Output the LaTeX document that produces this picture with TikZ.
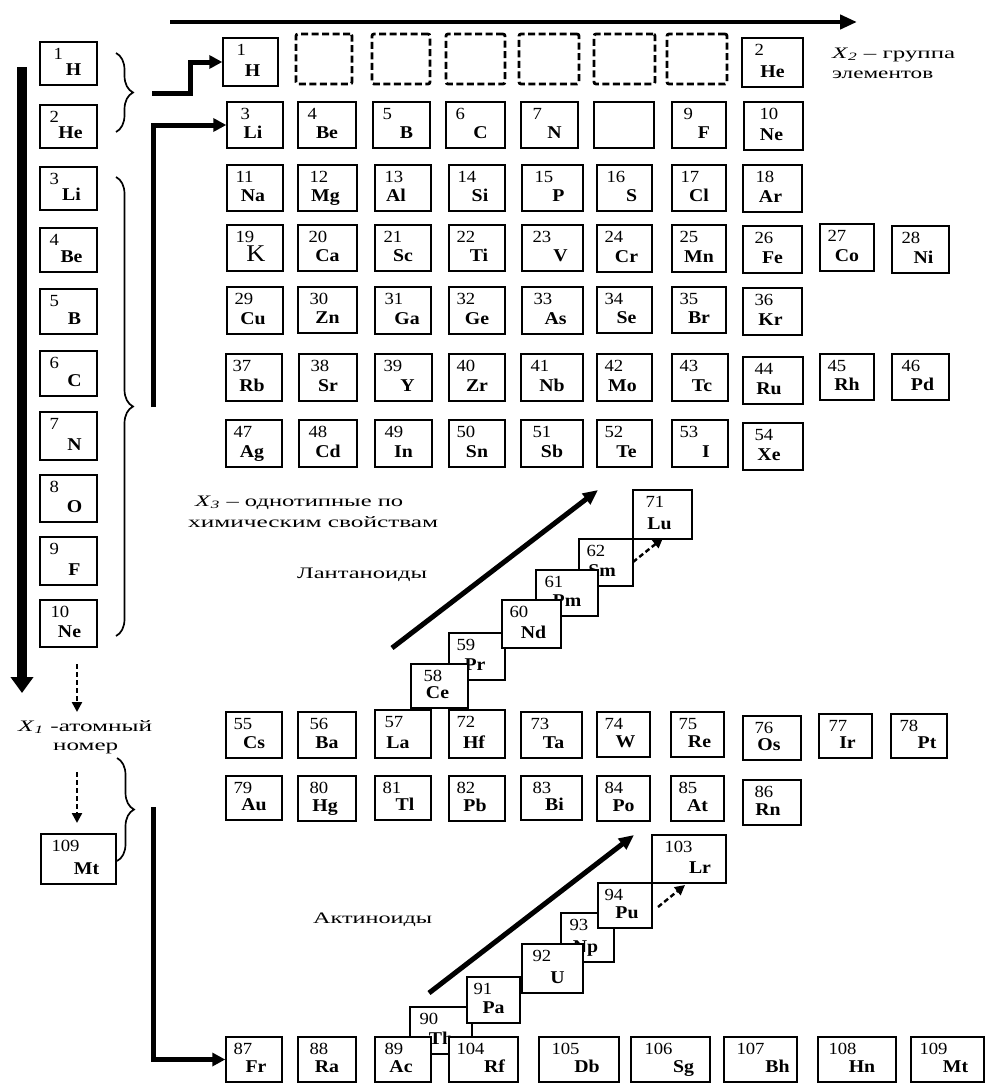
\documentclass[tikz,border=0pt]{standalone}
\usepackage{fontspec}
\usepackage{graphicx}
\setmainfont{Liberation Serif}
\usetikzlibrary{arrows.meta,decorations.pathreplacing}
\tikzset{
 elem/.style={draw, fill=white, line width=1.4pt, inner sep=0pt, rectangle},
 dbox/.style={draw, line width=2.8pt, dash pattern=on 7pt off 3.5pt, rounded corners=2pt, inner sep=0pt, rectangle},
 numtxt/.style={font=\fontsize{17}{17}\selectfont, inner sep=0pt},
 symtxt/.style={font=\fontsize{18}{18}\selectfont\bfseries, inner sep=0pt},
 lbl/.style={font=\fontsize{16}{16}\selectfont, inner sep=0pt},
 brc/.style={decorate, decoration={brace, amplitude=17pt}, line width=1.7pt},
 fat/.style={line width=4.5pt, -{Triangle[width=14pt,length=17pt]}},
 fatv/.style={line width=10pt, -{Triangle[width=22pt,length=16pt]}},
 conn/.style={line width=5pt, -{Triangle[width=13pt,length=13pt]}},
 diag/.style={line width=5pt, -{Triangle[width=13pt,length=15pt]}},
 dsh/.style={line width=2.4pt, dash pattern=on 5pt off 3pt, -{Triangle[width=10pt,length=10pt]}},
}
% name L T R B num sym dx nx
\newcommand\El[9]{%
\node[elem, minimum width={(#4-#2)*1pt}, minimum height={(#5-#3)*1pt}] (#1) at ({(#2+#4)/2},{(#3+#5)/2}) {};
\node[numtxt, anchor=base west] (#1n) at ([shift={(#9pt,-18pt)}]#1.north west) {\scalebox{1.1}[1]{#6}};
\node[symtxt, anchor=base] (#1s) at ([shift={(#8pt,10pt)}]#1.south) {\scalebox{1.1}[1]{#7}};}
\newcommand\DB[5]{%
\node[dbox, minimum width={(#4-#2)*1pt}, minimum height={(#5-#3)*1pt}] (#1) at ({(#2+#4)/2},{(#3+#5)/2}) {};}
\newcommand\fitw[2]{\resizebox{#1pt}{\height}{#2}}
\begin{document}
\begin{tikzpicture}[x=1pt,y=-1pt]
\useasboundingbox (0,0) rectangle (986,1084);
% ---------- left column ----------
\El{lH}{40}{42}{97}{85}{1}{H}{5}{14}
\El{lHe}{40}{105}{97}{148}{2}{He}{2}{10}
\El{lLi}{40}{167}{97}{210}{3}{Li}{3}{10}
\El{lBe}{40}{228}{97}{272}{4}{Be}{3}{10}
\El{lB}{40}{289}{97}{334}{5}{B}{6}{10}
\El{lC}{40}{351}{97}{396}{6}{C}{6}{10}
\El{lN}{40}{412}{97}{460}{7}{N}{6}{10}
\El{lO}{40}{475}{97}{522}{8}{O}{6}{10}
\El{lF}{40}{537}{97}{585}{9}{F}{6}{10}
\El{lNe}{40}{600}{97}{647}{10}{Ne}{1}{11}
\El{lMt}{41}{834}{116}{884}{109}{Mt}{8}{11}
% ---------- row 1 ----------
\El{tH}{223}{38}{278}{86}{1}{H}{2}{14}
\DB{d1}{296}{34}{352}{84}
\DB{d2}{372}{34}{430}{84}
\DB{d3}{446}{34}{505}{84}
\DB{d4}{519}{34}{579}{84}
\DB{d5}{594}{34}{655}{84}
\DB{d6}{667}{34}{727}{84}
\El{tHe}{742}{38}{803}{87}{2}{He}{0}{13}
% ---------- row 2 ----------
\El{tLi}{227}{102}{283}{148}{3}{Li}{-2}{14}
\El{tBe}{298}{102}{356}{148}{4}{Be}{0}{10}
\El{tB}{373}{102}{430}{148}{5}{B}{5}{10}
\El{tC}{446}{102}{505}{148}{6}{C}{5}{10}
\El{tN}{521}{102}{578}{148}{7}{N}{5}{12}
\node[elem, minimum width=60pt, minimum height=46pt] (tO) at (624,125) {};
\El{tF}{672}{102}{726}{148}{9}{F}{5}{12}
\El{tNe}{744}{102}{803}{150}{10}{Ne}{-2}{16}
% ---------- row 3 ----------
\El{tNa}{227}{165}{283}{211}{11}{Na}{-2}{9}
\El{tMg}{298}{165}{357}{211}{12}{Mg}{-2}{12}
\El{tAl}{375}{165}{431}{211}{13}{Al}{-7}{10}
\El{tSi}{449}{165}{505}{211}{14}{Si}{3}{9}
\El{tP}{522}{165}{583}{211}{15}{P}{6}{13}
\El{tS}{597}{165}{652}{211}{16}{S}{7}{10}
\El{tCl}{672}{165}{726}{211}{17}{Cl}{0}{9}
\El{tAr}{743}{165}{802}{212}{18}{Ar}{-2}{13}
% ---------- row 4 ----------
\El{tK}{227}{225}{283}{271}{19}{{\mdseries\fontsize{24}{24}\selectfont K}}{1}{9}
\El{tCa}{298}{225}{357}{271}{20}{Ca}{0}{11}
\El{tSc}{375}{225}{431}{271}{21}{Sc}{0}{9}
\El{tTi}{449}{225}{505}{271}{22}{Ti}{2}{8}
\El{tV}{522}{225}{583}{271}{23}{V}{8}{11}
\El{tCr}{597}{225}{652}{272}{24}{Cr}{2}{8}
\El{tMn}{672}{225}{726}{272}{25}{Mn}{0}{8}
\El{tFe}{743}{226}{802}{273}{26}{Fe}{0}{12}
\El{tCo}{820}{224}{874}{271}{27}{Co}{0}{8}
\El{tNi}{892}{226}{949}{273}{28}{Ni}{3}{10}
% ---------- row 5 ----------
\El{tCu}{227}{287}{283}{334}{29}{Cu}{-2}{8}
\El{tZn}{298}{287}{357}{333}{30}{Zn}{0}{12}
\El{tGa}{375}{287}{431}{334}{31}{Ga}{4}{10}
\El{tGe}{449}{287}{505}{334}{32}{Ge}{0}{8}
\El{tAs}{522}{287}{583}{334}{33}{As}{3}{12}
\El{tSe}{597}{287}{652}{333}{34}{Se}{2}{8}
\El{tBr}{672}{287}{726}{333}{35}{Br}{0}{8}
\El{tKr}{743}{288}{802}{335}{36}{Kr}{-2}{12}
% ---------- row 6 ----------
\El{tRb}{226}{354}{282}{401}{37}{Rb}{-2}{7}
\El{tSr}{299}{354}{357}{401}{38}{Sr}{0}{12}
\El{tY}{375}{354}{432}{401}{39}{Y}{4}{9}
\El{tZr}{449}{354}{505}{401}{40}{Zr}{0}{8}
\El{tNb}{521}{354}{583}{401}{41}{Nb}{0}{10}
\El{tMo}{597}{354}{652}{401}{42}{Mo}{-2}{8}
\El{tTc}{672}{354}{728}{401}{43}{Tc}{2}{8}
\El{tRu}{743}{357}{803}{404}{44}{Ru}{-4}{12}
\El{tRh}{820}{354}{874}{400}{45}{Rh}{0}{8}
\El{tPd}{892}{354}{949}{400}{46}{Pd}{2}{10}
% ---------- row 7 ----------
\El{tAg}{226}{420}{282}{467}{47}{Ag}{-2}{8}
\El{tCd}{299}{420}{357}{467}{48}{Cd}{0}{10}
\El{tIn}{375}{420}{432}{467}{49}{In}{0}{10}
\El{tSn}{449}{420}{505}{467}{50}{Sn}{0}{8}
\El{tSb}{521}{420}{583}{467}{51}{Sb}{0}{12}
\El{tTe}{597}{420}{652}{467}{52}{Te}{2}{8}
\El{tI}{672}{420}{728}{467}{53}{I}{6}{8}
\El{tXe}{743}{423}{803}{470}{54}{Xe}{-4}{12}
% ---------- lanthanide staircase ----------
\El{tSm}{579}{539}{633}{586}{62}{Sm}{-4}{8}
\El{tPm}{536}{570}{598}{616}{61}{Pm}{0}{9}
\El{tPr}{449}{633}{505}{680}{59}{Pr}{-2}{8}
\El{tNd}{502}{600}{561}{648}{60}{Nd}{2}{8}
\El{tCe}{411}{664}{468}{708}{58}{Ce}{-2}{13}
\El{tLu}{633}{490}{692}{539}{71}{Lu}{-3}{13}
% ---------- row Cs ----------
\El{tCs}{226}{712}{282}{758}{55}{Cs}{0}{8}
\El{tBa}{298}{712}{356}{758}{56}{Ba}{0}{12}
\El{tLa}{375}{710}{431}{758}{57}{La}{-5}{10}
\El{tHf}{449}{710}{505}{758}{72}{Hf}{-3}{8}
\El{tTa}{521}{712}{582}{758}{73}{Ta}{2}{10}
\El{tW}{597}{712}{650}{757}{74}{W}{2}{8}
\El{tRe}{671}{712}{724}{757}{75}{Re}{2}{8}
\El{tOs}{743}{716}{801}{760}{76}{Os}{-3}{12}
\El{tIr}{819}{714}{872}{758}{77}{Ir}{2}{10}
\El{tPt}{891}{714}{947}{758}{78}{Pt}{8}{9}
% ---------- row Au ----------
\El{tAu}{226}{776}{282}{820}{79}{Au}{0}{8}
\El{tHg}{298}{776}{356}{821}{80}{Hg}{-2}{12}
\El{tTl}{375}{776}{431}{820}{81}{Tl}{2}{8}
\El{tPb}{449}{776}{505}{821}{82}{Pb}{-2}{8}
\El{tBi}{521}{776}{582}{820}{83}{Bi}{3}{12}
\El{tPo}{597}{776}{650}{821}{84}{Po}{0}{8}
\El{tAt}{671}{776}{724}{821}{85}{At}{0}{8}
\El{tRn}{743}{780}{801}{825}{86}{Rn}{-4}{12}
% ---------- actinide staircase ----------
\El{tTh}{410}{1007}{472}{1054}{90}{Th}{0}{10}
\El{tNp}{561}{913}{614}{962}{93}{Np}{-2}{9}
\El{tPa}{467}{977}{520}{1023}{91}{Pa}{0}{7}
\El{tU}{522}{944}{583}{993}{92}{U}{5}{11}
\El{tPu}{598}{883}{652}{928}{94}{Pu}{2}{7}
\El{tLr}{652}{835}{726}{883}{103}{Lr}{11}{13}
% ---------- row Fr ----------
\El{tFr}{226}{1037}{282}{1082}{87}{Fr}{2}{8}
\El{tRa}{298}{1037}{356}{1082}{88}{Ra}{0}{12}
\El{tAc}{375}{1037}{431}{1082}{89}{Ac}{-2}{10}
\El{tRf}{449}{1037}{518}{1082}{104}{Rf}{11}{8}
\El{tDb}{539}{1037}{619}{1082}{105}{Db}{8}{13}
\El{tSg}{631}{1037}{710}{1082}{106}{Sg}{13}{14}
\El{tBh}{724}{1037}{797}{1082}{107}{Bh}{17}{13}
\El{tHn}{818}{1037}{896}{1082}{108}{Hn}{5}{11}
\El{tMt}{911}{1037}{984}{1082}{109}{Mt}{8}{9}
% ---------- labels ----------
\node[lbl, anchor=base west] (x2a) at (832,58) {\fitw{123}{\textit{X}\textsubscript{\textit{2}} – группа}};
\node[lbl, anchor=base west] (x2b) at (832,78) {\fitw{101}{элементов}};
\node[lbl, anchor=base west] (x3a) at (195,506) {\fitw{208}{\textit{X}\textsubscript{\textit{3}} – однотипные по}};
\node[lbl, anchor=base west] (x3b) at (188,527) {\fitw{250}{химическим свойствам}};
\node[lbl, anchor=base west] (lant) at (297,578) {\fitw{130}{Лантаноиды}};
\node[lbl, anchor=base west] (akt) at (313,923) {\fitw{119}{Актиноиды}};
\node[lbl, anchor=base west] (x1a) at (18,731) {\fitw{134}{\textit{X}\textsubscript{\textit{1}} -атомный}};
\node[lbl, anchor=base west] (x1b) at (53,750) {\fitw{65}{номер}};
% ---------- braces ----------
\draw[brc] (116,53) -- (116,132);
\draw[brc] (116,177) -- (116,636);
\draw[brc] (117,758) -- (117,861);
% ---------- arrows ----------
\coordinate (topL) at (170,22);
\coordinate (topR) at (857,22);
\draw[fat] (topL) -- (topR);
\coordinate (leftT) at (22,67);
\coordinate (leftB) at (22,693);
\draw[fatv] (leftT) -- (leftB);
\coordinate (hb) at (152,93);
\coordinate (hk) at (190,93);
\draw[conn] (hb) -- (hk) |- (tH.west);
\coordinate (lb) at (153,407);
\draw[conn] (lb) |- (tLi.west);
\coordinate (mb) at (153,807);
\draw[conn] (mb) |- (tFr.west);
\coordinate (la1) at (392,648);
\coordinate (la2) at (598,490);
\draw[diag] (la1) -- (la2);
\coordinate (ld1) at (633,562);
\coordinate (ld2) at (663,538);
\draw[dsh] (ld1) -- (ld2);
\coordinate (ac1) at (429,993);
\coordinate (ac2) at (634,835);
\draw[diag] (ac1) -- (ac2);
\coordinate (ad1) at (658,907);
\coordinate (ad2) at (685,885);
\draw[dsh] (ad1) -- (ad2);
\coordinate (d1a) at (77,664);
\coordinate (d1b) at (77,712);
\draw[dsh] (d1a) -- (d1b);
\coordinate (d2a) at (77,772);
\coordinate (d2b) at (77,823);
\draw[dsh] (d2a) -- (d2b);
\end{tikzpicture}
\end{document}
